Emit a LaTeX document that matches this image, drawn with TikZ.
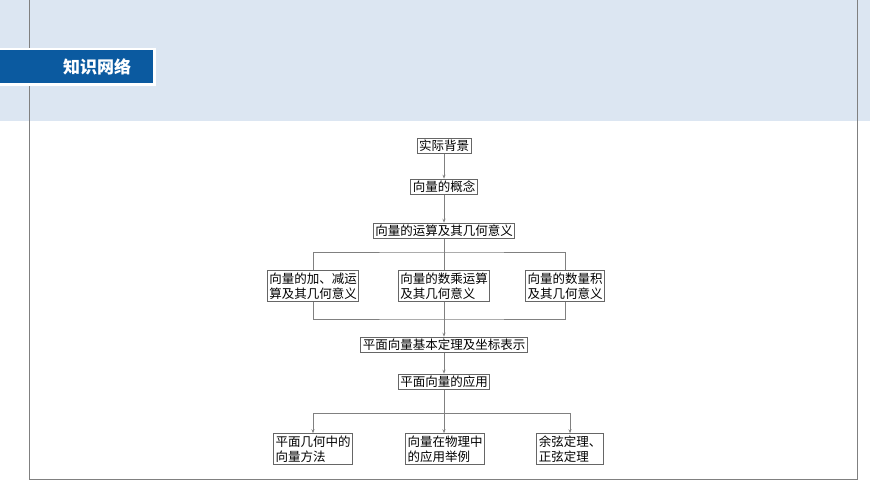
\documentclass[tikz,border=0pt]{standalone}
\usepackage{fontspec}
\newfontfamily\cjk{Noto Sans CJK SC}
\usetikzlibrary{arrows.meta}
\definecolor{bandblue}{HTML}{DCE6F2}
\definecolor{titleblue}{HTML}{0B5AA0}
\tikzset{
    box/.style={draw=gray!80!black, line width=.9pt, fill=white, font=\cjk\fontsize{12.5}{15}\selectfont, inner sep=2pt, align=left},
    link/.style={draw=gray, line width=.8pt},
    arr/.style={link, -{Stealth[length=4pt,width=3pt]}}
}
\begin{document}
\begin{tikzpicture}[x=1pt, y=-1pt]
\useasboundingbox (0,0) rectangle (870,489);
\fill[bandblue] (0,0) rectangle (870,121);
\draw[gray, line width=1pt] (29,0) -- (29,479) -- (857,479) -- (857,0);
\fill[white] (0,48) rectangle (156,86);
\fill[titleblue] (0,50) rectangle (153,83);
\node[text=white, font=\cjk\bfseries\fontsize{17}{20}\selectfont] (title) at (97,66.5) {知识网络};

% top chain
\node[box] (bg) at (444,146) {实际背景};
\node[box] (gn) at (444,187) {向量的概念};
\node[box] (ys) at (444,231) {向量的运算及其几何意义};
\node[box] (jj) at (313,286) {向量的加、减运\\算及其几何意义};
\node[box] (sc) at (444,286) {向量的数乘运算\\及其几何意义};
\node[box] (sl) at (565,286) {向量的数量积\\及其几何意义};
\node[box] (dl) at (444,345) {平面向量基本定理及坐标表示};
\node[box] (yy) at (444,382) {平面向量的应用};
\node[box] (pm) at (313,449) {平面几何中的\\向量方法};
\node[box] (wl) at (445,449) {向量在物理中\\的应用举例};
\node[box] (zx) at (570,449) {余弦定理、\\正弦定理};

\draw[arr] (bg) -- (gn);
\draw[arr] (gn) -- (ys);
\draw[link] (ys) -- (sc);
\draw[link] (jj.north) |- (444,252) -| (sl.north);
\draw[link] (jj.south) |- (444,319) -| (sl.south);
\draw[link] (sc.south) -- (444,319);
\draw[arr] (444,319) -- (dl);
\draw[arr] (dl) -- (yy);
\draw[arr] (yy) -- (wl.north -| yy);
\draw[arr] (444,413) -| (pm.north);
\draw[arr] (444,413) -| (zx.north);
\end{tikzpicture}
\end{document}
